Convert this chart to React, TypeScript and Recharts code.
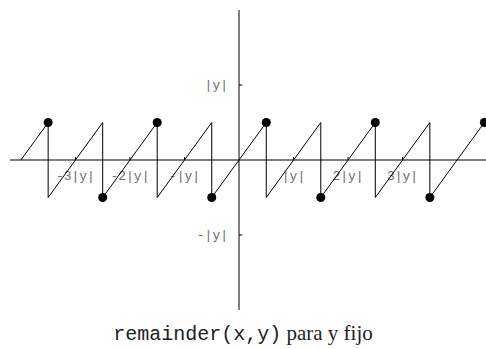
import { ComposedChart, Line, Scatter, XAxis, YAxis, ReferenceLine } from "recharts";

// sawtooth vertices, in units of |y| (x) and |y| (remainder value)
const sawX = [-4, -3.5, -3.5, -2.5, -2.5, -1.5, -1.5, -0.5, -0.5, 0.5, 0.5, 1.5, 1.5, 2.5, 2.5, 3.5, 3.5, 4.5];
const sawY = [0, 0.5, -0.5, 0.5, -0.5, 0.5, -0.5, 0.5, -0.5, 0.5, -0.5, 0.5, -0.5, 0.5, -0.5, 0.5, -0.5, 0.5];

// closed endpoints at the jumps (round-half-even picks the side)
const topDotX = [-3.5, -1.5, 0.5, 2.5, 4.5];
const bottomDotX = [-2.5, -0.5, 1.5, 3.5];

const xTicks = [-3, -2, -1, 1, 2, 3];
const xTickLabels = ["-3|y|", "-2|y|", "-|y|", "|y|", "2|y|", "3|y|"];
const yTicks = [1, -1];
const yTickLabels = ["|y|", "-|y|"];

const sawData = sawX.map((x, i) => ({ x, y: sawY[i] }));
const topDots = topDotX.map((x) => ({ x, y: 0.5 }));
const bottomDots = bottomDotX.map((x) => ({ x, y: -0.5 }));

const tickFont = { fontFamily: "'Liberation Mono', monospace", fontSize: 13, fill: "#6a6a6a" };

const dotShape = (props: any) => <circle cx={props.cx} cy={props.cy} r={4.5} fill="#000" />;

export default function App() {
  return (
    <div style={{ position: "absolute", left: 0, top: 0, width: 486, height: 349, background: "#fff" }}>
      <ComposedChart width={486} height={349} data={sawData} margin={{ top: 10, right: 0, bottom: 39, left: 10 }}>
        <XAxis dataKey="x" type="number" domain={[-4.2, 4.53]} hide allowDataOverflow />
        <YAxis dataKey="y" type="number" domain={[-2, 2]} hide allowDataOverflow />
        <ReferenceLine y={0} stroke="#000" strokeWidth={1} />
        <ReferenceLine x={0} stroke="#000" strokeWidth={1} />
        {xTicks.map((t, i) => (
          <ReferenceLine
            key={`xt-${t}`}
            segment={[{ x: t, y: 0 }, { x: t, y: 0.04 }]}
            stroke="#000"
            label={({ viewBox }: any) => (
              <text x={viewBox.x} y={viewBox.y + viewBox.height + 20} textAnchor="middle" {...tickFont}>
                {xTickLabels[i]}
              </text>
            )}
          />
        ))}
        {yTicks.map((t, i) => (
          <ReferenceLine
            key={`yt-${t}`}
            segment={[{ x: 0, y: t }, { x: 0.06, y: t }]}
            stroke="#000"
            label={({ viewBox }: any) => (
              <text x={viewBox.x - 11} y={viewBox.y + 4} textAnchor="end" {...tickFont}>
                {yTickLabels[i]}
              </text>
            )}
          />
        ))}
        <Line dataKey="y" type="linear" stroke="#000" strokeWidth={1} dot={false} isAnimationActive={false} />
        <Scatter data={topDots} dataKey="y" shape={dotShape} isAnimationActive={false} />
        <Scatter data={bottomDots} dataKey="y" shape={dotShape} isAnimationActive={false} />
        <text x={243} y={340} textAnchor="middle" fill="#222">
          <tspan fontFamily="'Liberation Mono', monospace" fontSize={20}>remainder(x,y)</tspan>
          <tspan fontFamily="'Liberation Serif', serif" fontSize={21}> para y fijo</tspan>
        </text>
      </ComposedChart>
    </div>
  );
}
